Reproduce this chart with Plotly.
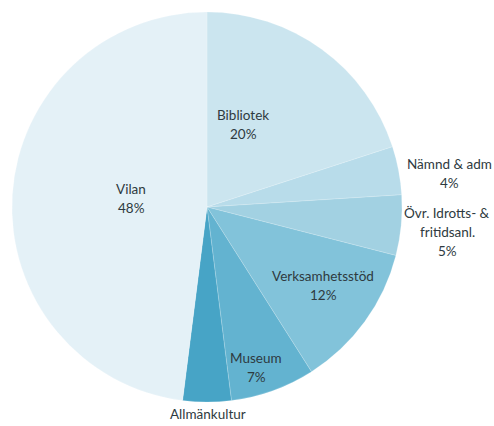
import plotly.graph_objects as go

# Budget shares per verksamhet, clockwise from 12 o'clock
labels = ["Bibliotek", "Nämnd & adm", "Övr. Idrotts- &\nfritidsanl.", "Verksamhetsstöd",
          "Museum", "Allmänkultur", "Vilan"]
values = [20, 4, 5, 12, 7, 4, 48]
colors = ["#cbe5ef", "#b8dcea", "#a2d1e2", "#82c3da", "#63b3d0", "#47a4c6", "#e4f1f7"]

# Label anchor points (pixels in a 494x426 canvas, origin top-left)
label_pos = [(243, 124), (449, 173), (447, 232), (323, 285), (256, 367), (208, 414), (131, 198)]
show_pct = [True, True, True, True, True, False, True]

W, H = 494, 426
cx, cy, r = 207, 207, 195

fig = go.Figure(go.Pie(
    labels=[l.replace("\n", " ") for l in labels],
    values=values,
    sort=False,
    direction="clockwise",
    rotation=0,
    marker=dict(colors=colors, line=dict(color="rgba(255,255,255,0.3)", width=0.6)),
    textinfo="none",
    hoverinfo="label+percent",
    domain=dict(x=[(cx - r) / W, (cx + r) / W], y=[(H - cy - r) / H, (H - cy + r) / H]),
    showlegend=False,
))

line_gap = 19
annotations = []
for lab, val, (px, py), pct in zip(labels, values, label_pos, show_pct):
    lines = lab.split("\n") + ([f"{val}%"] if pct else [])
    top = py - line_gap * (len(lines) - 1) / 2
    for i, t in enumerate(lines):
        annotations.append(dict(
            x=px / W, y=1 - (top + i * line_gap) / H, xref="paper", yref="paper",
            text=t, showarrow=False, xanchor="center", yanchor="middle",
            font=dict(family="Lato", size=13.5, color="#2e3a40"),
        ))

fig.update_layout(
    width=W, height=H,
    margin=dict(l=0, r=0, t=0, b=0),
    paper_bgcolor="white",
    annotations=annotations,
)

fig.write_html("out.html")
